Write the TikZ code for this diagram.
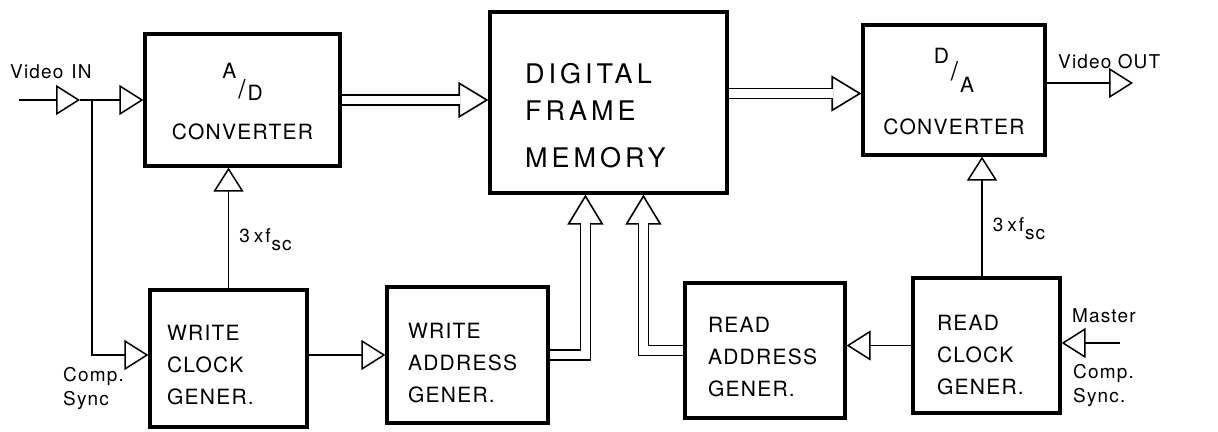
\documentclass[tikz,border=0pt]{standalone}
\usepackage{fontspec}
\setmainfont{TeX Gyre Heros}
\newfontfamily\blockfont{TeX Gyre Heros}[LetterSpace=6]
\newfontfamily\memfont{TeX Gyre Heros}[LetterSpace=15]
\usepackage{tikz}
\usetikzlibrary{arrows.meta}
\usetikzlibrary{calc}

\newcommand{\conv}[4]{\raisebox{#3}{#1}\hspace{2pt}\raisebox{#4}{\fontsize{26}{26}\selectfont /}\hspace{2pt}#2}
\newcommand{\fsc}{3\hspace{4pt}x\hspace{2pt}f\hspace{1pt}\raisebox{-8pt}{sc}}

\tikzset{
	block/.style={draw, line width=3.2pt, inner ysep=0pt, align=left, font=\blockfont\fontsize{21}{32}\selectfont},
	sig/.style={line width=1.5pt, -{Triangle[open, length=24pt, width=30pt]}},
	bus/.style={line width=1.6pt, double, double distance=8.5pt},
	bushead/.style={line width=1.6pt, -{Triangle[open, length=30pt, width=36pt]}},
	lbl/.style={inner sep=0pt, font=\blockfont\fontsize{19}{24}\selectfont},
	freq/.style={lbl, anchor=west, xshift=10pt}
}

\begin{document}
\begin{tikzpicture}[x=1pt, y=-1pt]
	\useasboundingbox (0,0) rectangle (1218,431);

	\begin{scope}[every node/.style=block]
	    \node[text width=175pt, inner xsep=10pt, align=center, text height=66pt, text depth=66pt] (adc) at (242.5,100) {\conv{A}{D}{22pt}{2pt}\\[7pt]CONVERTER};
	    \node[text width=167pt, inner xsep=35pt, text height=71pt, text depth=110pt, font=\memfont\fontsize{27}{37}\selectfont] (mem) at (608.5,102.5) {DIGITAL\\FRAME\\[10pt]MEMORY};
	    \node[text width=162pt, inner xsep=10pt, align=center, text height=67pt, text depth=63pt] (dac) at (954,90) {\conv{D}{A}{29pt}{12pt}\\[10pt]CONVERTER};
	    \node[text width=123pt, inner xsep=17pt, text height=50pt, text depth=87pt] (wclk) at (228.5,358.5) {WRITE\\CLOCK\\GENER.};
	    \node[text width=119pt, inner xsep=21pt, text height=51pt, text depth=85pt] (wadr) at (467.5,355) {WRITE\\ADDRESS\\GENER.};
	    \node[text width=114pt, inner xsep=23pt, text height=49pt, text depth=86pt] (radr) at (765,350.5) {READ\\ADDRESS\\GENER.};
	    \node[text width=99pt, inner xsep=24pt, text height=52pt, text depth=83pt] (rclk) at (986.5,345.5) {READ\\CLOCK\\GENER.};
	\end{scope}

	\node[lbl, anchor=base west] (vinlbl) at (10,78) {Video\hspace{8pt}IN};
	\node[lbl, anchor=north west, align=left] (wsync) at (63,367) {Comp.\\Sync};
	\node[lbl, anchor=base west] (voutlbl) at (1058,68) {Video OUT};
	\node[lbl, anchor=base west] (master) at (1072,322) {Master};
	\node[lbl, anchor=north west, align=left] (rsync) at (1073,364) {Comp.\\Sync.};

	\coordinate (vin) at (19,100);
	\coordinate (buf) at (80,100);
	\coordinate (jn) at (92,100);
	\coordinate (vout) at (1133,83);
	\coordinate (mst) at (1120,343);
	\coordinate (rup) at ([xshift=-4.5pt]rclk.north);
	\coordinate (ahead) at (adc.east -| mem.west);
	\coordinate (dhead) at ([yshift=-3.5pt]dac.west);
	\coordinate (whead) at ($(mem.south west)+(97,0)$);
	\coordinate (rhead) at ($(mem.south west)+(155,0)$);

	\draw[sig] (vin) -- (buf);
	\draw[sig] (buf) -- (adc.west);
	\draw[sig] (jn) |- ([yshift=3.5pt]wclk.west);
	\draw[sig] (wclk.north) -- node[freq, pos=0.4] {\fsc} (wclk.north |- adc.south);
	\draw[sig] (wclk.east |- wadr.west) -- (wadr.west);
	\draw[sig] (rup) -- node[freq, pos=0.4] {\fsc} (rup |- dac.south);
	\draw[sig] (rclk.west) -- (rclk.west -| radr.east);
	\draw[sig] (mst) -- (mst -| rclk.east);
	\draw[sig] (dac.east |- vout) -- (vout);

	\draw[bushead] ($(ahead)+(-34,0)$) -- (ahead);
	\draw[bus] (adc.east) -- ($(ahead)+(-28,0)$);
	\draw[bushead] ($(dhead)+(-34,0)$) -- (dhead);
	\draw[bus] (mem.east |- dhead) -- ($(dhead)+(-28,0)$);
	\draw[bushead] ($(whead)+(0,34)$) -- (whead);
	\draw[bus] (wadr.east) -| ($(whead)+(0,28)$);
	\draw[bushead] ($(rhead)+(0,34)$) -- (rhead);
	\draw[bus] (radr.west) -| ($(rhead)+(0,28)$);
\end{tikzpicture}
\end{document}
